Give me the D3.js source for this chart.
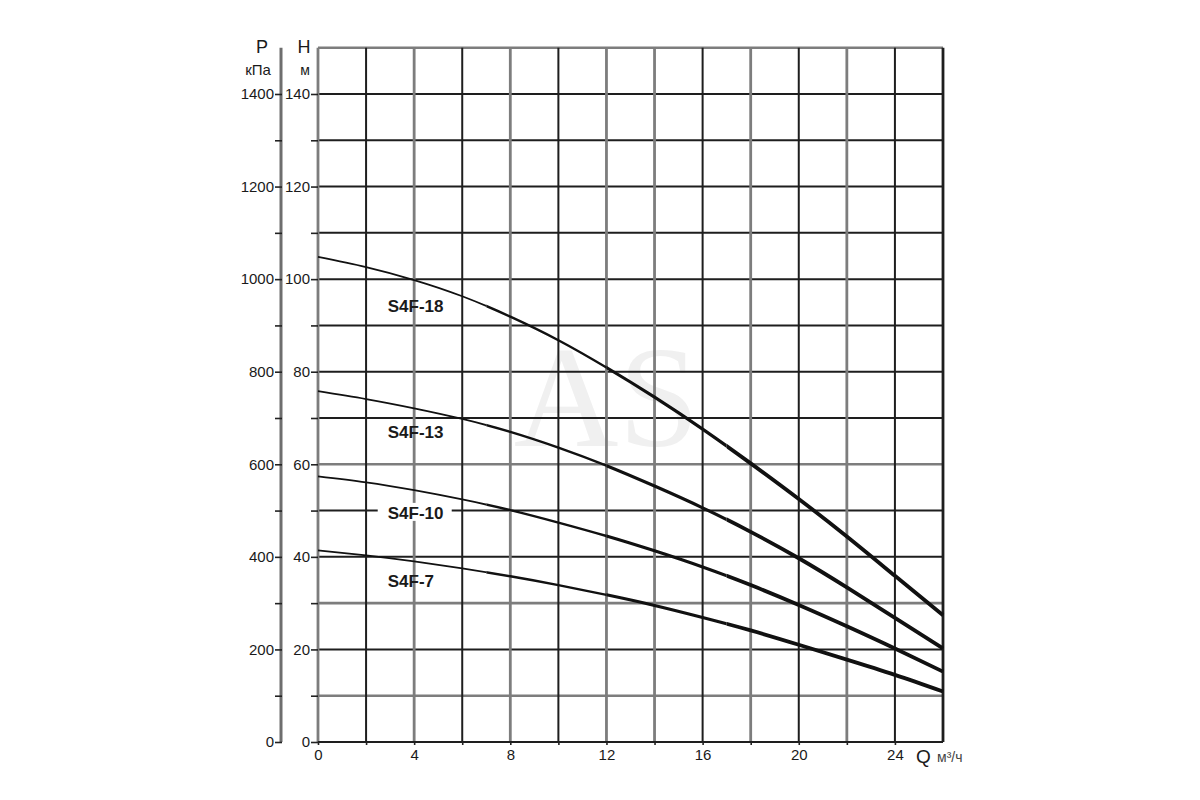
<!DOCTYPE html>
<html>
<head>
<meta charset="utf-8">
<script src="https://cdn.jsdelivr.net/npm/d3@7/dist/d3.min.js"></script>
<style>
    body { margin: 0; background: #fff; }
    svg { display: block; }
</style>
</head>
<body>
<div id="chart"></div>
<script>
// flow Q (м³/ч) at which heads were read
var q_values = [0, 2, 4, 6, 8, 10, 12, 14, 16, 18, 20, 22, 24, 26];

// head H (м) for each pump
var head_s4f18 = [104.8, 102.6, 99.8, 96.3, 91.9, 86.8, 80.9, 74.5, 67.6, 60.2, 52.5, 44.4, 35.9, 27.4];
var head_s4f13 = [75.8, 74.1, 72.1, 69.8, 67.0, 63.6, 59.7, 55.3, 50.6, 45.4, 39.7, 33.4, 26.8, 20.2];
var head_s4f10 = [57.4, 56.1, 54.4, 52.4, 50.1, 47.4, 44.5, 41.3, 37.8, 33.9, 29.6, 25.0, 20.2, 15.2];
var head_s4f7 = [41.4, 40.3, 39.0, 37.5, 35.8, 33.9, 31.8, 29.5, 26.9, 24.1, 21.0, 17.8, 14.5, 10.9];

var series_names = ['S4F-18', 'S4F-13', 'S4F-10', 'S4F-7'];
var series_heads = [head_s4f18, head_s4f13, head_s4f10, head_s4f7];
// where each name starts (Q, H)
var label_q = [2.9, 2.9, 2.9, 2.9];
var label_h = [94.3, 67, 49.5, 34.8];

var q_ticks = [0, 4, 8, 12, 16, 20, 24];
var h_ticks = [0, 20, 40, 60, 80, 100, 120, 140];
var p_ticks = [0, 200, 400, 600, 800, 1000, 1200, 1400];

var width = 1200;
var height = 800;
var plot_left = 318, plot_right = 943, plot_bottom = 742, plot_top = 47.7;

var svg = d3.select('#chart')
    .append('svg')
    .attr('width', width)
    .attr('height', height)
    .style('font-family', 'Arial, "Liberation Sans", sans-serif');

var x_scale = d3.scaleLinear().domain([0, 26]).range([plot_left, plot_right]);
var y_scale = d3.scaleLinear().domain([0, 150]).range([plot_bottom, plot_top]);
var p_scale = d3.scaleLinear().domain([0, 1500]).range([plot_bottom, plot_top]);

// faint watermark behind the grid
svg.append('text')
    .attr('x', x_scale(12))
    .attr('y', y_scale(64))
    .attr('text-anchor', 'middle')
    .attr('font-family', '"Liberation Serif", "DejaVu Serif", serif')
    .attr('font-size', '145px')
    .attr('fill', '#f0f0f0')
    .text('AS');

// grid lines, some print grey, others black
var grey_q = [0, 4, 8, 12, 14, 18, 22];
var grey_h = [10, 30, 60, 150];

svg.append('g')
    .selectAll('line')
    .data(d3.range(10, 151, 10))
    .enter()
    .append('line')
    .attr('x1', plot_left)
    .attr('x2', plot_right)
    .attr('y1', function (d) { return y_scale(d); })
    .attr('y2', function (d) { return y_scale(d); })
    .attr('stroke', function (d) { return grey_h.indexOf(d) >= 0 ? '#7d7d7d' : '#1e1e1e'; })
    .attr('stroke-width', function (d) { return grey_h.indexOf(d) >= 0 ? 2.6 : 2; });

svg.append('g')
    .selectAll('line')
    .data(d3.range(0, 27, 2))
    .enter()
    .append('line')
    .attr('x1', function (d) { return x_scale(d); })
    .attr('x2', function (d) { return x_scale(d); })
    .attr('y1', plot_top)
    .attr('y2', plot_bottom)
    .attr('stroke', function (d) { return grey_q.indexOf(d) >= 0 ? '#7d7d7d' : '#1e1e1e'; })
    .attr('stroke-width', function (d) {
        if (d === 26) return 2.8;
        return grey_q.indexOf(d) >= 0 ? 2.8 : 2;
    });

svg.append('line')
    .attr('x1', plot_left).attr('x2', plot_right)
    .attr('y1', plot_bottom).attr('y2', plot_bottom)
    .attr('stroke', '#1e1e1e')
    .attr('stroke-width', 2.2);

// H axis on the grid border
var h_axis = d3.axisLeft(y_scale)
    .tickValues(d3.range(0, 141, 10))
    .tickSize(7)
    .tickPadding(1)
    .tickFormat(function (d) { return h_ticks.indexOf(d) >= 0 ? d : ''; });

var h_g = svg.append('g')
    .attr('transform', 'translate(' + plot_left + ',0)')
    .call(h_axis);
h_g.select('.domain').remove();

// P axis, a separate grey line
svg.append('line')
    .attr('x1', 281).attr('x2', 281)
    .attr('y1', plot_top).attr('y2', plot_bottom)
    .attr('stroke', '#6e6e6e')
    .attr('stroke-width', 3);

var p_axis = d3.axisLeft(p_scale)
    .tickValues(d3.range(0, 1401, 100))
    .tickSize(7)
    .tickPadding(1)
    .tickFormat(function (d) { return p_ticks.indexOf(d) >= 0 ? d : ''; });

var p_g = svg.append('g')
    .attr('transform', 'translate(282,0)')
    .call(p_axis);
p_g.select('.domain').remove();

// Q axis labels
var q_axis = d3.axisBottom(x_scale)
    .tickValues(d3.range(0, 25, 2))
    .tickSize(3)
    .tickPadding(4)
    .tickFormat(function (d) { return q_ticks.indexOf(d) >= 0 ? d : ''; });

var q_g = svg.append('g')
    .attr('transform', 'translate(0,' + plot_bottom + ')')
    .call(q_axis);
q_g.select('.domain').remove();

svg.selectAll('.tick line')
    .attr('stroke', '#222')
    .attr('stroke-width', 1.6);
svg.selectAll('.tick text')
    .attr('font-size', '15px')
    .attr('fill', '#1a1a1a')
    .attr('font-family', 'Arial, "Liberation Sans", sans-serif');

// axis names
function add_text(x, y, txt, size, anchor, color) {
    svg.append('text')
        .attr('x', x)
        .attr('y', y)
        .attr('text-anchor', anchor)
        .attr('font-size', size)
        .attr('fill', color)
        .text(txt);
}
add_text(262, 53, 'P', '18px', 'middle', '#1a1a1a');
add_text(258, 75, 'кПа', '15px', 'middle', '#1a1a1a');
add_text(304, 53, 'H', '18px', 'middle', '#1a1a1a');
add_text(305, 75, 'м', '14px', 'middle', '#1a1a1a');
add_text(916, 763, 'Q', '19px', 'start', '#1a1a1a');
add_text(937, 762, 'м³/ч', '14px', 'start', '#444');

// pump curves, the print gets heavier to the right
var line = d3.line()
    .x(function (d) { return x_scale(d[0]); })
    .y(function (d) { return y_scale(d[1]); })
    .curve(d3.curveNatural);

var bands = [[0, 7, 1.8], [7, 12, 2.4], [12, 17, 3.1], [17, 27, 3.8]];
var defs = svg.append('defs');
bands.forEach(function (b, i) {
    defs.append('clipPath')
        .attr('id', 'band' + i)
        .append('rect')
        .attr('x', x_scale(b[0]) - (i === 0 ? 2 : 0))
        .attr('y', 0)
        .attr('width', x_scale(b[1]) - x_scale(b[0]) + (i === 0 ? 2 : 0))
        .attr('height', height);
});

var curves = svg.append('g');
for (let s = 0; s < series_heads.length; s++) {
    var points = q_values.map(function (q, i) { return [q, series_heads[s][i]]; });
    bands.forEach(function (b, i) {
        curves.append('path')
            .attr('d', line(points))
            .attr('fill', 'none')
            .attr('stroke', '#111')
            .attr('stroke-width', b[2])
            .attr('clip-path', 'url(#band' + i + ')');
    });
}

// pump names, white backing where they sit on a grid line
var labels = svg.append('g');
for (let s = 0; s < series_names.length; s++) {
    var lx = x_scale(label_q[s]);
    var ly = y_scale(label_h[s]);
    labels.append('rect')
        .attr('x', lx - 10)
        .attr('y', ly - 10)
        .attr('width', 74)
        .attr('height', 18)
        .attr('fill', s === 2 ? '#fff' : 'none');
    labels.append('text')
        .attr('x', lx)
        .attr('y', ly + 6)
        .attr('text-anchor', 'start')
        .attr('font-size', '17px')
        .attr('font-weight', 'bold')
        .attr('fill', '#1a1a1a')
        .text(series_names[s]);
}
</script>
</body>
</html>
